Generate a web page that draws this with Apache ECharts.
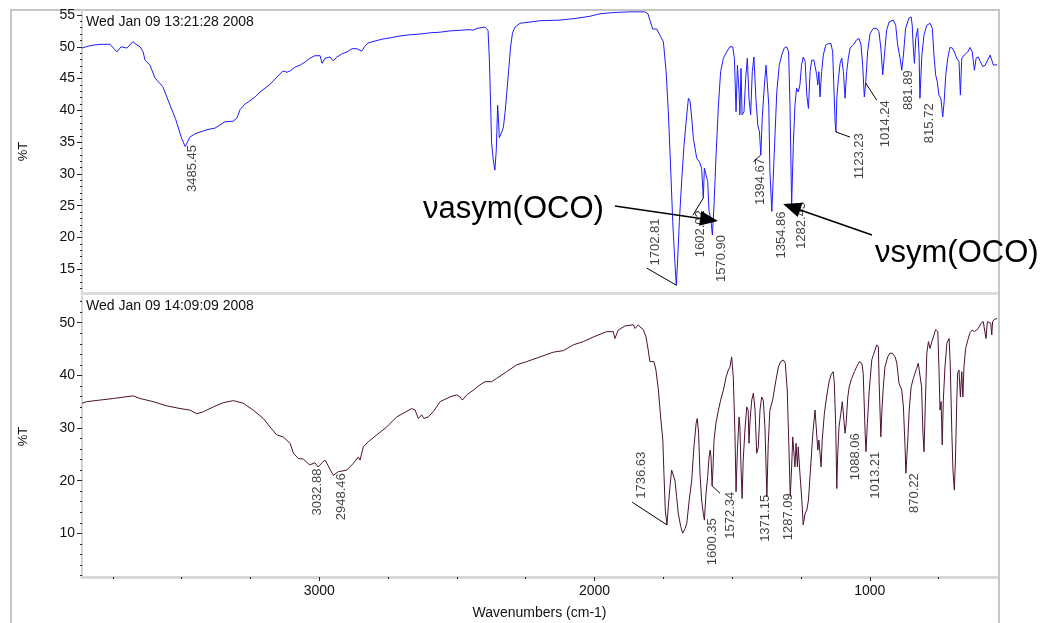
<!DOCTYPE html>
<html>
<head>
<meta charset="utf-8">
<script src="https://cdn.jsdelivr.net/npm/echarts@6/dist/echarts.min.js"></script>
<style>
  html, body { margin: 0; padding: 0; background: #fff; }
  #chart { width: 1045px; height: 623px; }
</style>
</head>
<body>
<div id="chart"></div>
<script>
// spectra: [wavenumber (cm-1), %T]
const topSpectrum = [
  [3862,49.8],[3840,50.1],[3815,50.3],[3786,50.4],[3760,50.4],[3746,49.7],[3735,49.2],[3720,50.0],[3699,49.8],[3677,50.8],
  [3666,50.4],[3651,50.0],[3640,49.2],[3633,47.9],[3626,48.2],[3615,47.1],[3597,45.1],[3568,43.7],[3542,40.8],[3521,38.5],
  [3500,35.6],[3487,34.3],[3470,35.8],[3452,36.3],[3433,36.6],[3404,37.0],[3379,37.2],[3361,37.7],[3343,38.2],[3313,38.3],
  [3299,38.8],[3288,40.1],[3270,41.0],[3252,41.5],[3234,42.1],[3215,42.9],[3197,43.5],[3179,44.1],[3157,45.1],[3132,46.2],
  [3117,46.0],[3106,46.2],[3088,46.8],[3070,47.1],[3052,47.6],[3034,48.2],[3016,48.6],[2997,48.6],[2990,47.4],[2979,48.2],
  [2961,48.4],[2950,47.8],[2936,48.4],[2917,48.9],[2899,49.2],[2881,49.7],[2863,49.7],[2846,49.3],[2834,50.1],[2823,50.6],
  [2798,50.9],[2772,51.2],[2743,51.4],[2707,51.7],[2670,51.9],[2634,52.0],[2598,52.2],[2561,52.3],[2525,52.5],[2489,52.6],
  [2452,52.7],[2442,52.6],[2427,52.9],[2398,53.1],[2387,52.6],[2382,47.9],[2378,41.6],[2374,34.9],[2368,32.2],[2362,30.6],
  [2357,33.8],[2352,40.8],[2348,37.7],[2346,35.7],[2337,36.6],[2331,37.4],[2325,39.7],[2319,42.7],[2312,46.3],[2305,50.0],
  [2298,52.2],[2289,53.1],[2271,53.7],[2198,54.1],[2126,54.2],[2071,54.45],[2017,54.8],[1980,55.2],[1926,55.4],[1871,55.5],
  [1817,55.5],[1806,55.2],[1799,54.2],[1789,52.8],[1774,52.8],[1760,51.6],[1750,50.8],[1740,46.1],[1732,39.8],[1723,30.3],
  [1716,22.5],[1709,16.7],[1703,12.5],[1699,15.7],[1692,22.5],[1683,29.3],[1675,34.5],[1665,39.3],[1659,41.9],[1653,41.4],
  [1647,38.8],[1641,35.6],[1629,32.5],[1619,31.9],[1611,30.9],[1605,26.2],[1601,30.9],[1595,30.9],[1589,28.8],[1584,24.1],
  [1578,23.0],[1572,20.4],[1566,25.1],[1559,32.5],[1550,40.8],[1542,46.1],[1532,48.2],[1520,49.2],[1508,50.0],[1498,50.0],
  [1492,48.2],[1486,39.8],[1481,47.1],[1475,42.9],[1472,39.3],[1468,46.6],[1464,39.3],[1457,39.8],[1451,45.0],[1445,48.2],
  [1439,41.9],[1433,39.3],[1427,46.1],[1421,48.4],[1414,41.9],[1407,37.7],[1401,36.6],[1396,33.0],[1391,38.7],[1383,44.0],
  [1377,47.1],[1372,47.1],[1367,40.8],[1363,30.4],[1356,24.1],[1351,29.3],[1344,36.6],[1338,42.9],[1329,47.1],[1320,48.7],
  [1311,49.8],[1302,50.0],[1295,49.2],[1290,40.8],[1284,25.1],[1278,34.5],[1272,40.8],[1266,43.5],[1260,42.9],[1254,44.0],
  [1248,47.1],[1242,48.4],[1235,47.7],[1229,42.4],[1223,40.3],[1217,46.1],[1211,47.9],[1203,47.9],[1193,45.6],[1189,44.0],
  [1185,46.1],[1181,42.1],[1175,46.1],[1169,48.7],[1160,50.3],[1151,50.5],[1141,50.5],[1135,49.2],[1130,42.9],[1126,38.0],
  [1123,36.6],[1120,41.9],[1114,45.0],[1108,47.4],[1102,48.2],[1096,46.1],[1090,41.9],[1084,46.1],[1078,48.2],[1072,49.8],
  [1060,50.3],[1048,51.1],[1039,51.3],[1032,50.3],[1026,47.1],[1020,42.1],[1015,44.3],[1008,49.2],[999,52.1],[987,52.9],
  [975,52.9],[967,52.4],[960,49.8],[953,45.6],[947,48.7],[939,52.6],[930,53.9],[915,54.2],[906,53.4],[899,50.3],
  [890,48.2],[884,46.3],[878,48.7],[870,52.9],[858,54.5],[850,54.7],[846,53.4],[842,49.8],[838,47.4],[833,51.3],
  [826,52.9],[821,48.7],[818,41.9],[811,48.7],[803,51.9],[793,53.4],[781,53.7],[773,52.9],[767,48.7],[761,45.6],
  [755,44.5],[749,42.4],[742,41.9],[735,39.0],[730,41.4],[724,45.6],[717,48.2],[709,49.9],[700,49.8],[693,49.2],
  [684,48.2],[676,47.7],[671,42.4],[666,48.2],[657,48.7],[644,49.2],[636,49.9],[628,49.2],[620,46.3],[614,48.2],
  [606,48.4],[599,47.7],[590,46.9],[581,47.1],[572,47.9],[563,48.7],[557,47.9],[551,47.1],[538,47.2]
];

const bottomSpectrum = [
  [3862,34.7],[3845,35.0],[3797,35.3],[3748,35.6],[3706,35.9],[3676,36.1],[3651,35.6],[3603,35.0],[3554,34.2],[3506,33.7],
  [3470,33.4],[3445,32.7],[3421,33.1],[3385,34.0],[3349,34.8],[3312,35.2],[3276,34.7],[3240,33.4],[3203,31.8],[3179,30.2],
  [3155,28.7],[3131,28.3],[3106,27.1],[3094,25.2],[3076,24.2],[3058,24.1],[3035,23.0],[3028,23.3],[3016,23.4],[3004,22.6],
  [2990,23.4],[2979,23.9],[2949,21.0],[2931,21.7],[2900,22.0],[2876,23.3],[2858,24.5],[2852,23.9],[2840,26.4],[2822,27.4],
  [2791,28.7],[2755,30.2],[2719,32.1],[2695,32.8],[2664,33.7],[2652,33.4],[2640,31.8],[2628,32.5],[2620,31.8],[2604,32.1],
  [2586,33.1],[2561,35.0],[2525,35.9],[2501,36.3],[2489,35.9],[2480,35.3],[2464,36.3],[2440,37.2],[2416,38.2],[2398,38.8],
  [2374,38.8],[2356,39.4],[2319,40.7],[2283,42.0],[2247,42.6],[2198,43.5],[2150,44.4],[2113,44.7],[2077,45.8],[2041,46.4],
  [2004,47.3],[1956,48.3],[1932,48.3],[1926,47.0],[1914,48.6],[1889,49.4],[1859,49.6],[1853,48.9],[1841,49.6],[1835,49.2],
  [1823,48.7],[1813,47.3],[1805,44.8],[1799,42.6],[1792,42.9],[1784,42.6],[1777,41.0],[1768,37.2],[1760,32.1],[1752,27.7],
  [1748,21.4],[1743,14.4],[1737,11.6],[1732,15.1],[1726,18.9],[1720,22.0],[1714,22.3],[1708,20.1],[1702,17.0],[1696,13.8],
  [1687,11.3],[1680,10.0],[1671,10.9],[1665,11.9],[1656,16.3],[1647,20.1],[1639,26.4],[1631,30.9],[1627,31.8],[1622,29.0],
  [1617,21.4],[1611,16.3],[1605,13.8],[1601,12.5],[1595,17.6],[1589,20.8],[1584,24.5],[1580,25.8],[1577,24.5],[1573,19.0],
  [1570,22.0],[1566,27.7],[1559,30.9],[1550,33.4],[1542,35.3],[1532,37.2],[1522,39.7],[1514,41.0],[1508,41.6],[1502,43.5],
  [1496,39.7],[1490,29.0],[1486,17.9],[1481,25.8],[1475,32.1],[1472,30.2],[1468,22.6],[1464,16.6],[1460,23.9],[1453,30.2],
  [1447,34.0],[1442,33.4],[1439,27.1],[1435,31.5],[1429,35.3],[1423,36.6],[1417,33.4],[1411,25.2],[1405,26.4],[1399,33.4],
  [1393,35.9],[1387,35.3],[1381,30.2],[1374,17.0],[1369,27.1],[1363,33.4],[1353,35.3],[1347,35.3],[1341,39.1],[1332,41.6],
  [1324,42.6],[1314,42.9],[1307,42.3],[1300,37.2],[1294,26.4],[1289,17.0],[1284,22.6],[1280,28.3],[1275,28.3],[1272,22.6],
  [1268,27.1],[1263,22.6],[1260,26.4],[1254,21.4],[1247,16.3],[1242,11.6],[1235,13.8],[1229,14.4],[1223,16.3],[1215,22.6],
  [1207,29.0],[1199,33.4],[1193,33.7],[1189,25.8],[1185,27.7],[1177,22.6],[1173,27.7],[1165,32.8],[1157,35.9],[1148,38.8],
  [1141,40.1],[1133,40.7],[1129,38.5],[1124,30.6],[1120,18.5],[1117,24.5],[1112,30.2],[1106,32.5],[1100,35.0],[1095,35.3],
  [1090,29.0],[1086,30.9],[1080,35.9],[1075,37.8],[1066,39.4],[1056,40.7],[1048,41.6],[1038,42.6],[1029,42.3],[1024,40.4],
  [1017,29.0],[1014,25.5],[1009,30.9],[1002,37.2],[993,42.9],[987,43.9],[981,44.8],[975,45.8],[969,45.4],[966,38.5],
  [960,28.3],[956,33.4],[951,37.8],[945,41.6],[935,43.5],[927,44.2],[918,44.2],[908,43.5],[902,42.3],[894,38.5],
  [884,37.2],[878,34.0],[872,26.4],[869,21.4],[862,27.7],[857,33.4],[850,37.8],[842,39.4],[836,40.4],[830,41.3],
  [824,42.3],[818,42.0],[812,37.8],[807,29.0],[803,25.5],[798,35.3],[793,44.2],[787,46.4],[781,45.1],[775,46.4],
  [769,47.3],[761,48.7],[753,48.3],[749,41.6],[745,33.4],[741,35.0],[737,26.8],[733,35.3],[727,41.6],[720,46.1],
  [712,47.0],[708,42.3],[702,29.0],[698,22.0],[693,18.2],[689,23.9],[684,35.3],[681,40.4],[676,41.0],[671,35.9],
  [666,40.7],[662,35.9],[658,41.6],[652,45.1],[644,46.7],[636,48.1],[628,48.6],[620,48.3],[614,48.0],[606,48.9],
  [596,49.9],[588,50.2],[581,50.2],[578,47.0],[573,50.2],[567,50.5],[561,49.9],[557,47.7],[554,50.2],[548,50.6],[538,50.8]
];

// peak labels
const topPeakNames = ['3485.45', '1702.81', '1602.02', '1570.90', '1394.67', '1354.86', '1282.45', '1123.23', '1014.24', '881.89', '815.72'];
const bottomPeakNames = ['3032.88', '2948.46', '1736.63', '1600.35', '1572.34', '1371.15', '1287.09', '1088.06', '1013.21', '870.22'];

// tick values
const xLabelTicks = [1000, 2000, 3000];
const xMinorTicks = [750, 1250, 1500, 1750, 2250, 2500, 2750, 3250, 3500, 3750];
const topYLabels = [15, 20, 25, 30, 35, 40, 45, 50, 55];
const topYMinor = [12,13,14,16,17,18,19,21,22,23,24,26,27,28,29,31,32,33,34,36,37,38,39,41,42,43,44,46,47,48,49,51,52,53,54];
const bottomYLabels = [10, 20, 30, 40, 50];
const bottomYMinor = [2, 4, 6, 8, 12, 14, 16, 18, 22, 24, 26, 28, 32, 34, 36, 38, 42, 44, 46, 48, 52, 54];

// label layout (top end of each rotated label, data coords) and leader lines
const topLabelAt = [[3461, 34.55], [1780, 23.0], [1617, 24.3], [1538, 20.4], [1399, 32.5], [1320, 24.1], [1247, 25.6], [1039, 36.4], [945, 41.6], [859, 46.3], [785, 41.1]];
const bottomLabelAt = [[3007, 22.3], [2919, 21.4], [1830, 25.5], [1571, 12.85], [1505, 17.9], [1378, 17.3], [1294, 17.6], [1054, 29.0], [981, 25.5], [838, 21.4]];
const topLeaders = [
  [[1811, 15.2], [1703, 12.5]],
  [[1643, 23.5], [1605, 26.2]],
  [[1423, 31.9], [1396, 33.0]],
  [[1123, 36.6], [1072, 35.8]],
  [[1015, 44.3], [975, 41.6]]
];
const bottomLeaders = [
  [[1863, 15.9], [1737, 11.6]],
  [[1544, 17.6], [1573, 19.0]]
];
const arrows = [
  [[1926, 24.95], [1584, 22.8]],
  [[992, 20.4], [1284, 24.8]]
];

const FONT = '"Liberation Sans", Arial, sans-serif';
const chart = echarts.init(document.getElementById('chart'));

function labelSeries(xi, yi, names, pos, leaders) {
  return {
    type: 'scatter',
    xAxisIndex: xi,
    yAxisIndex: yi,
    silent: true,
    symbolSize: 1,
    itemStyle: { color: 'rgba(0,0,0,0)' },
    data: pos.map((p, i) => ({ name: names[i], value: p })),
    label: {
      show: true,
      position: 'inside',
      formatter: '{b}',
      rotate: 90,
      align: 'right',
      verticalAlign: 'middle',
      fontSize: 13,
      fontFamily: FONT,
      color: '#111'
    },
    markLine: {
      silent: true,
      symbol: ['none', 'none'],
      label: { show: false },
      lineStyle: { color: '#000', width: 1, type: 'solid' },
      data: leaders.map(l => [{ coord: l[0] }, { coord: l[1] }])
    }
  };
}

function xAxisBase(gi) {
  return {
    type: 'value',
    gridIndex: gi,
    min: 538,
    max: 3862,
    inverse: true,
    position: 'bottom',
    splitLine: { show: false },
    axisLine: { onZero: false }
  };
}

function yAxisBase(gi, min, max) {
  return {
    type: 'value',
    gridIndex: gi,
    min: min,
    max: max,
    position: 'left',
    splitLine: { show: false },
    axisLine: { onZero: false }
  };
}

const plain = v => String(v);

chart.setOption({
  animation: false,
  textStyle: { fontFamily: FONT },
  grid: [
    { left: 82, top: 10, width: 915, height: 283 },
    { left: 82, top: 296, width: 915, height: 281 }
  ],
  xAxis: [
    Object.assign(xAxisBase(0), {
      axisLine: { show: true, onZero: false, lineStyle: { color: '#dcdcdc', width: 3 } },
      axisTick: { show: false },
      axisLabel: { show: false }
    }),
    Object.assign(xAxisBase(1), {
      name: 'Wavenumbers (cm-1)',
      nameLocation: 'middle',
      nameGap: 29,
      nameTextStyle: { fontSize: 14, color: '#111', fontFamily: FONT },
      axisLine: { show: true, onZero: false, lineStyle: { color: '#d8d8d8', width: 3 } },
      axisTick: { show: true, customValues: xLabelTicks, length: 4, lineStyle: { color: '#222' } },
      axisLabel: { customValues: xLabelTicks, formatter: plain, fontSize: 14, color: '#111', margin: 7 }
    }),
    Object.assign(xAxisBase(1), {
      axisLine: { show: false, onZero: false },
      axisTick: { show: true, customValues: xMinorTicks, length: 2, lineStyle: { color: '#222' } },
      axisLabel: { show: false }
    })
  ],
  yAxis: [
    Object.assign(yAxisBase(0, 11.27, 55.79), {
      name: '%T',
      nameLocation: 'middle',
      nameGap: 52,
      nameTextStyle: { fontSize: 13, color: '#111', fontFamily: FONT },
      axisLine: { show: true, onZero: false, lineStyle: { color: '#d4d4d4', width: 2 } },
      axisTick: { show: true, customValues: topYLabels, length: 5, lineStyle: { color: '#222' } },
      axisLabel: { customValues: topYLabels, formatter: plain, fontSize: 14, color: '#111', margin: 7 }
    }),
    Object.assign(yAxisBase(0, 11.27, 55.79), {
      axisLine: { show: false, onZero: false },
      axisTick: { show: true, customValues: topYMinor, length: 2, lineStyle: { color: '#222' } },
      axisLabel: { show: false }
    }),
    Object.assign(yAxisBase(1, 1.7, 55.07), {
      name: '%T',
      nameLocation: 'middle',
      nameGap: 52,
      nameTextStyle: { fontSize: 13, color: '#111', fontFamily: FONT },
      axisLine: { show: true, onZero: false, lineStyle: { color: '#d4d4d4', width: 2 } },
      axisTick: { show: true, customValues: bottomYLabels, length: 5, lineStyle: { color: '#222' } },
      axisLabel: { customValues: bottomYLabels, formatter: plain, fontSize: 14, color: '#111', margin: 7 }
    }),
    Object.assign(yAxisBase(1, 1.7, 55.07), {
      axisLine: { show: false, onZero: false },
      axisTick: { show: true, customValues: bottomYMinor, length: 2, lineStyle: { color: '#222' } },
      axisLabel: { show: false }
    })
  ],
  graphic: [
    {
      type: 'rect', z: -1, silent: true,
      shape: { x: 11, y: 10, width: 988, height: 640 },
      style: { fill: 'none', stroke: '#c6c6c6', lineWidth: 2 }
    },
    {
      type: 'text', x: 86, y: 22.5, silent: true,
      style: { text: 'Wed Jan 09 13:21:28 2008', fontSize: 14, fontFamily: FONT, fill: '#111', verticalAlign: 'middle', textVerticalAlign: 'middle' }
    },
    {
      type: 'text', x: 86, y: 306.5, silent: true,
      style: { text: 'Wed Jan 09 14:09:09 2008', fontSize: 14, fontFamily: FONT, fill: '#111', verticalAlign: 'middle', textVerticalAlign: 'middle' }
    },
    {
      type: 'text', x: 423, y: 209, silent: true,
      style: { text: 'νasym(OCO)', fontSize: 31, fontFamily: FONT, fill: '#000', verticalAlign: 'middle', textVerticalAlign: 'middle' }
    },
    {
      type: 'text', x: 875, y: 253, silent: true,
      style: { text: 'νsym(OCO)', fontSize: 31, fontFamily: FONT, fill: '#000', verticalAlign: 'middle', textVerticalAlign: 'middle' }
    }
  ],
  series: [
    {
      type: 'line',
      xAxisIndex: 0,
      yAxisIndex: 0,
      data: topSpectrum,
      showSymbol: false,
      silent: true,
      lineStyle: { color: '#1c1cff', width: 1 },
      markLine: {
        silent: true,
        symbol: ['none', 'triangle'],
        symbolSize: [15, 18],
        label: { show: false },
        lineStyle: { color: '#000', width: 1.5, type: 'solid' },
        itemStyle: { color: '#000' },
        data: arrows.map(a => [{ coord: a[0] }, { coord: a[1] }])
      }
    },
    {
      type: 'line',
      xAxisIndex: 1,
      yAxisIndex: 2,
      data: bottomSpectrum,
      showSymbol: false,
      silent: true,
      lineStyle: { color: '#4b1033', width: 1 }
    },
    labelSeries(0, 0, topPeakNames, topLabelAt, topLeaders),
    labelSeries(1, 2, bottomPeakNames, bottomLabelAt, bottomLeaders)
  ]
});
</script>
</body>
</html>
